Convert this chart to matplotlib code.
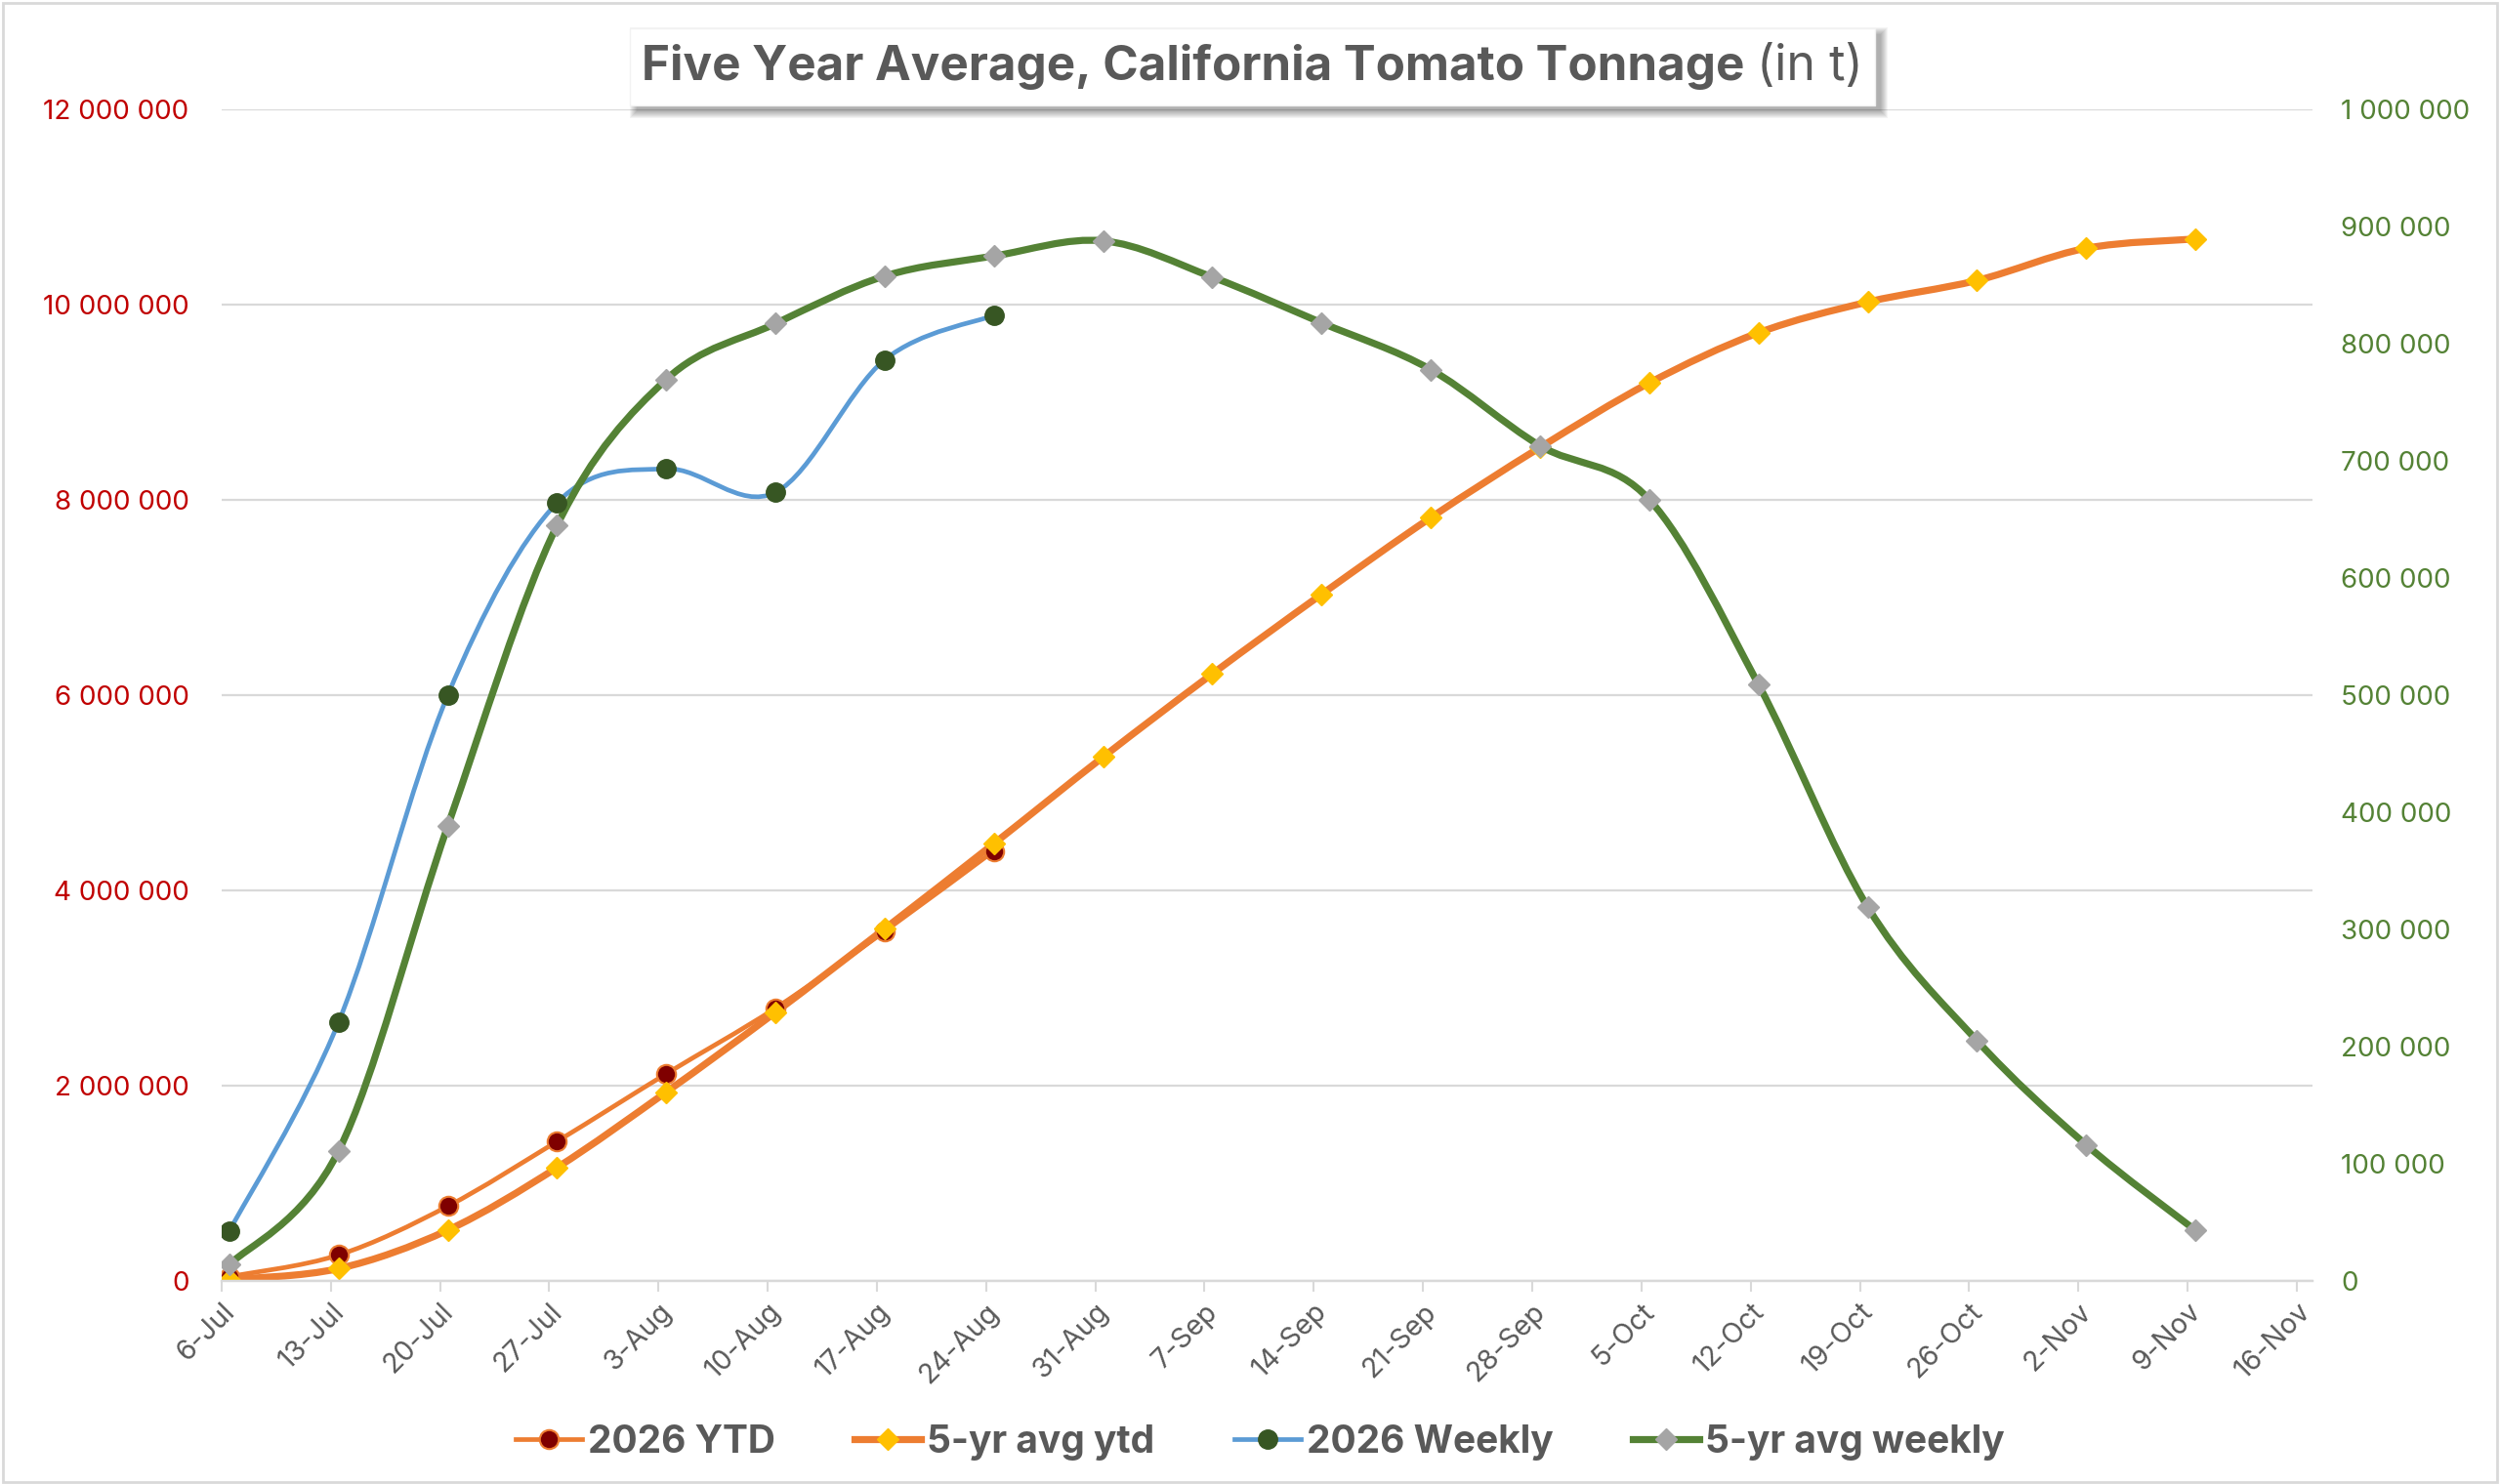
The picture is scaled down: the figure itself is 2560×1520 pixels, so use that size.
import matplotlib
matplotlib.use('Agg')
import matplotlib.pyplot as plt
from matplotlib.path import Path
from matplotlib.patches import PathPatch, Rectangle
from matplotlib.lines import Line2D
from matplotlib.ticker import FuncFormatter, MultipleLocator
import numpy as np

plt.rcParams['font.family'] = ['Inter', 'DejaVu Sans']

# weekly dates on the x axis (6-Jul .. 16-Nov)
week_labels = ['6-Jul', '13-Jul', '20-Jul', '27-Jul', '3-Aug', '10-Aug', '17-Aug',
               '24-Aug', '31-Aug', '7-Sep', '14-Sep', '21-Sep', '28-Sep', '5-Oct',
               '12-Oct', '19-Oct', '26-Oct', '2-Nov', '9-Nov', '16-Nov']

# left axis (cumulative tonnage)
ytd_2026 = [42000, 263000, 763000, 1427000, 2120000, 2793000, 3580000, 4404000]
ytd_5yr = [10000, 124000, 518000, 1159000, 1933000, 2750000, 3607000, 4479000,
           5367000, 6219000, 7034000, 7820000, 8539000, 9200000, 9714000,
           10029000, 10250000, 10580000, 10675000]

# right axis (weekly tonnage)
weekly_2026 = [42300, 220700, 500000, 664200, 693300, 673200, 786400, 824400]
weekly_5yr = [13600, 110700, 388300, 644900, 769600, 817300, 857900, 875000,
              888000, 857000, 818000, 778000, 713000, 667000, 509000, 319000,
              205000, 116000, 43000]

ORANGE = '#ED7D31'
MAROON = '#7F0000'
YELLOW = '#FFC000'
BLUE = '#5B9BD5'
DKGREEN = '#375623'
GREEN = '#548235'
GREY = '#A5A5A5'
TXT = '#595959'
GRID = '#D9D9D9'

tick_days = np.arange(len(week_labels)) * 7


def smooth_path(x, y):
    # excel style smoothed line: bezier segments through the points
    pts = np.column_stack([x, y]).astype(float)
    n = len(pts)
    verts = [pts[0]]
    codes = [Path.MOVETO]
    for i in range(n - 1):
        p0 = pts[i - 1] if i > 0 else pts[i]
        p1 = pts[i]
        p2 = pts[i + 1]
        p3 = pts[i + 2] if i + 2 < n else pts[i + 1]
        verts += [p1 + (p2 - p0) / 6, p2 - (p3 - p1) / 6, p2]
        codes += [Path.CURVE4] * 3
    return Path(verts, codes)


def draw_series(axis, values, color, lw, marker, ms, mfc, mec, mew):
    # points sit in the middle of their day on the date axis
    xs = tick_days[:len(values)] + 0.5
    axis.add_patch(PathPatch(smooth_path(xs, values), fill=False, edgecolor=color,
                             lw=lw, capstyle='round', joinstyle='round'))
    axis.plot(xs, values, linestyle='none', marker=marker, ms=ms, mfc=mfc,
              mec=mec, mew=mew)
    return Line2D([], [], color=color, lw=lw, marker=marker, ms=ms, mfc=mfc,
                  mec=mec, mew=mew)


fig = plt.figure(figsize=(25.6, 15.2), dpi=100)
ax = fig.add_axes([0.0886, 0.137, 0.8364, 0.7891])
ax2 = ax.twinx()

h1 = draw_series(ax, ytd_2026, ORANGE, 3.4, 'o', 14, MAROON, ORANGE, 1.5)
h2 = draw_series(ax, ytd_5yr, ORANGE, 5.2, 'D', 11.5, YELLOW, YELLOW, 1)
h3 = draw_series(ax2, weekly_2026, BLUE, 3.4, 'o', 14, DKGREEN, DKGREEN, 1)
h4 = draw_series(ax2, weekly_5yr, GREEN, 5.2, 'D', 11.5, GREY, GREY, 1)

ax.set_xlim(0, tick_days[-1] + 1)
ax.set_ylim(0, 12000000)
ax2.set_ylim(0, 1000000)
ax.yaxis.set_major_locator(MultipleLocator(2000000))
ax2.yaxis.set_major_locator(MultipleLocator(100000))

fmt = FuncFormatter(lambda v, p: f'{int(v):,}'.replace(',', ' '))
ax.yaxis.set_major_formatter(fmt)
ax2.yaxis.set_major_formatter(fmt)

ax.set_xticks(tick_days)
ax.set_xticklabels(week_labels, rotation=45, ha='right', rotation_mode='anchor')
ax.tick_params(axis='x', colors=GRID, length=8, width=1.5, labelsize=20.5,
               labelcolor=TXT, pad=5)
ax.tick_params(axis='y', length=0, labelsize=20, labelcolor='#C00000', pad=24)
ax2.tick_params(axis='y', length=0, labelsize=20, labelcolor=GREEN, pad=21)

ax.yaxis.grid(True, color=GRID, lw=1.6)
ax.set_axisbelow(True)
for a in (ax, ax2):
    for s in ('top', 'left', 'right'):
        a.spines[s].set_visible(False)
    a.spines['bottom'].set_color(GRID)
    a.spines['bottom'].set_linewidth(1.6)

fig.legend([h1, h2, h3, h4], ['2026 YTD', '5-yr avg ytd', '2026 Weekly', '5-yr avg weekly'],
           loc='center', bbox_to_anchor=(0.504, 0.028), ncol=4, frameon=False,
           prop={'size': 28, 'weight': 'bold'}, labelcolor=TXT, handlelength=1.75,
           handletextpad=0.15, columnspacing=2.1)

# outer chart border
fig.patches.append(Rectangle((0.001, 0.001), 0.998, 0.997, transform=fig.transFigure,
                             fill=False, edgecolor=GRID, lw=2))

# title box with a soft shadow
bx, by, bw, bh = 0.252, 0.929, 0.498, 0.052
for k in range(8):
    g = k / fig.dpi / 25.6
    fig.patches.append(Rectangle((bx + 0.0025 - g, by - 0.004 - g * 1.68),
                                 bw + 2 * g, bh + 2 * g * 1.68,
                                 transform=fig.transFigure, color='black',
                                 alpha=0.045, lw=0))
fig.patches.append(Rectangle((bx, by), bw, bh, transform=fig.transFigure,
                             facecolor='white', edgecolor='#F2F2F2', lw=1))

t1 = fig.text(0, 0.955, 'Five Year Average, California Tomato Tonnage', fontsize=35.5,
              fontweight='bold', color=TXT, va='center', ha='left')
t2 = fig.text(0, 0.955, '(in t)', fontsize=36, color=TXT, va='center', ha='left')
r = fig.canvas.get_renderer()
w1 = t1.get_window_extent(r).width / fig.bbox.width
w2 = t2.get_window_extent(r).width / fig.bbox.width
gap = 0.005
x0 = bx + bw / 2 - (w1 + gap + w2) / 2
t1.set_x(x0)
t2.set_x(x0 + w1 + gap)

fig.savefig('out.png', dpi=100, facecolor='white')
